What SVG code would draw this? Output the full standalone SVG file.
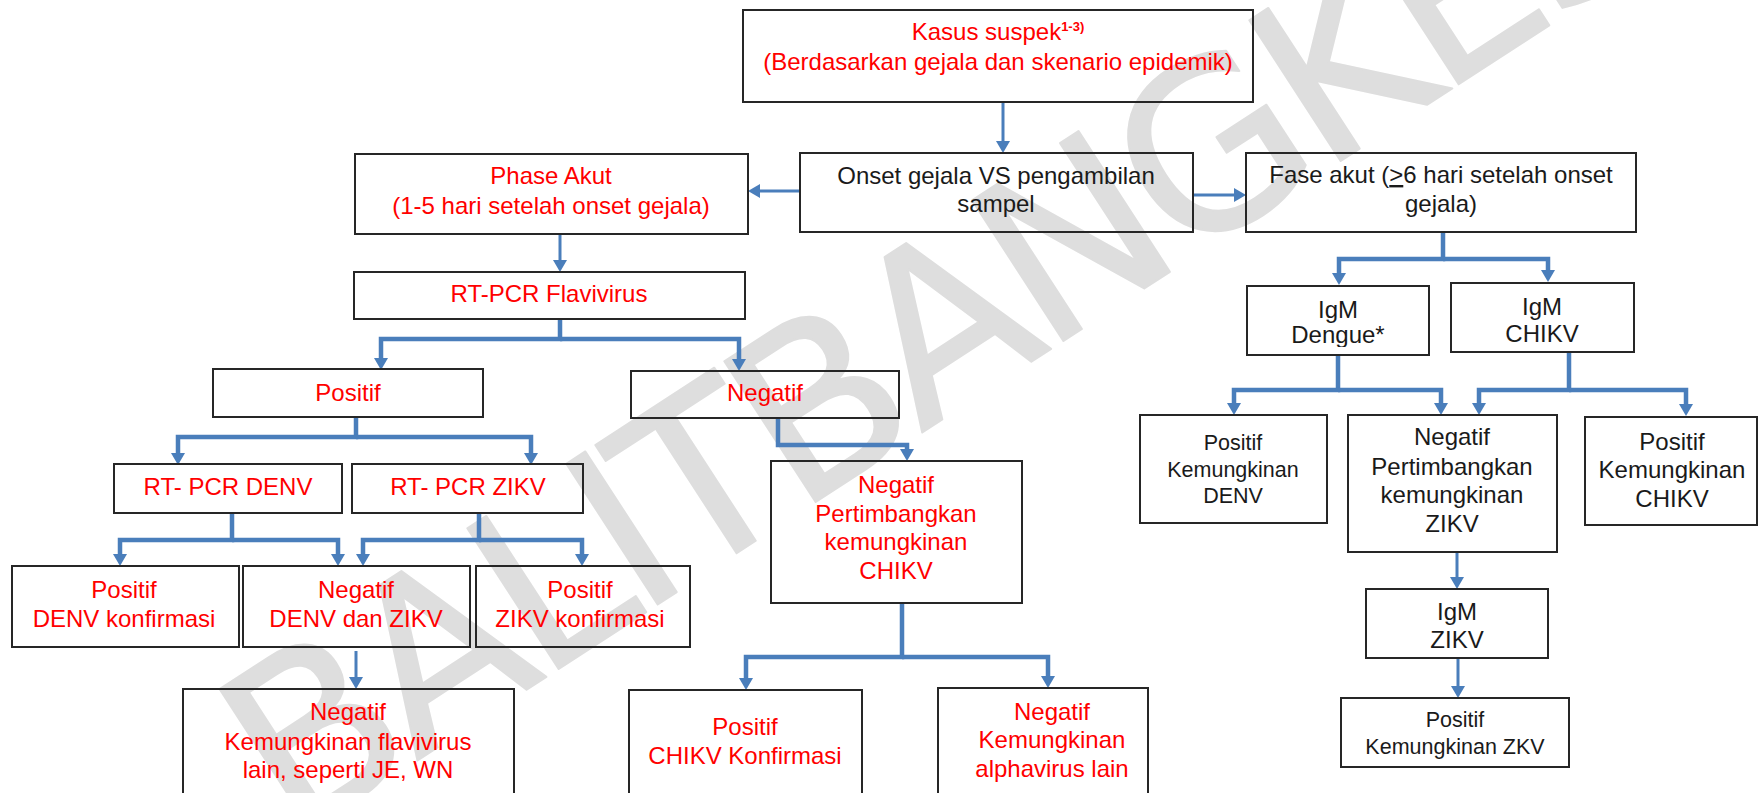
<svg xmlns="http://www.w3.org/2000/svg" width="1759" height="793" viewBox="0 0 1759 793">
<defs>
<style>
.box{fill:none;stroke:#262626;stroke-width:2}
.t{font-family:"Liberation Sans",Arial,sans-serif;font-size:24px;text-anchor:middle}
.r{fill:#ff0000}
.k{fill:#1a1a1a}
.s{font-size:21.5px}
.c{fill:none;stroke:#4a7ebb;stroke-width:3}
.c2{fill:none;stroke:#4a7ebb;stroke-width:4.5}
.wm{font-family:"DejaVu Sans",sans-serif;font-size:230px;fill:#dedede;stroke:#dedede;stroke-width:2;stroke-linejoin:round}
</style>
<marker id="ah" markerUnits="userSpaceOnUse" markerWidth="14" markerHeight="14" refX="2" refY="7" orient="auto">
<path d="M0,0 L12,7 L0,14 z" fill="#4a7ebb"/>
</marker>
<clipPath id="cd"><rect x="1247" y="286" width="182" height="61"/></clipPath>
</defs>
<rect width="1759" height="793" fill="#ffffff"/>
<g id="watermark">
<text class="wm" x="0" y="0" transform="translate(292,842) rotate(-33)" textLength="1650" lengthAdjust="spacing">BALITBANGKES</text>
</g>
<g id="connectors">
<path class="c" d="M1003,103 V143" marker-end="url(#ah)"/>
<path class="c" d="M800,191 H758" marker-end="url(#ah)"/>
<path class="c" d="M1193,195 H1236" marker-end="url(#ah)"/>
<path class="c" d="M560,234 V262" marker-end="url(#ah)"/>
<path class="c2" d="M560,319 V339 H381 V360" marker-end="url(#ah)"/>
<path class="c2" d="M560,339 H739 V361" marker-end="url(#ah)"/>
<path class="c2" d="M356,417 V437 H178 V455" marker-end="url(#ah)"/>
<path class="c2" d="M356,437 H531 V455" marker-end="url(#ah)"/>
<path class="c2" d="M232,513 V540 H120 V556" marker-end="url(#ah)"/>
<path class="c2" d="M232,540 H338 V556" marker-end="url(#ah)"/>
<path class="c2" d="M479,513 V540 H363 V556" marker-end="url(#ah)"/>
<path class="c2" d="M479,540 H582 V556" marker-end="url(#ah)"/>
<path class="c" d="M356,651 V679" marker-end="url(#ah)"/>
<path class="c2" d="M778,418 V445 H907 V451" marker-end="url(#ah)"/>
<path class="c2" d="M902,603 V657 H746 V680" marker-end="url(#ah)"/>
<path class="c2" d="M902,657 H1048 V678" marker-end="url(#ah)"/>
<path class="c2" d="M1443,232 V259 H1339 V275" marker-end="url(#ah)"/>
<path class="c2" d="M1443,259 H1548 V272" marker-end="url(#ah)"/>
<path class="c2" d="M1338,355 V390 H1234 V405" marker-end="url(#ah)"/>
<path class="c2" d="M1338,390 H1441 V405" marker-end="url(#ah)"/>
<path class="c2" d="M1569,352 V390 H1479 V405" marker-end="url(#ah)"/>
<path class="c2" d="M1569,390 H1686 V406" marker-end="url(#ah)"/>
<path class="c" d="M1457,552 V579" marker-end="url(#ah)"/>
<path class="c" d="M1458,658 V688" marker-end="url(#ah)"/>
</g>
<g id="n-kasus">
<rect class="box" x="743" y="10" width="510" height="92"/>
<text class="t r" x="998" y="40">Kasus suspek<tspan font-size="13" font-weight="bold" dy="-9">1-3)</tspan></text>
<text class="t r" x="998" y="70">(Berdasarkan gejala dan skenario epidemik)</text>
</g>
<g id="n-onset">
<rect class="box" x="800" y="153" width="393" height="79"/>
<text class="t k" x="996" y="184">Onset gejala VS pengambilan</text>
<text class="t k" x="996" y="212">sampel</text>
</g>
<g id="n-phase">
<rect class="box" x="355" y="154" width="393" height="80"/>
<text class="t r" x="551" y="184">Phase Akut</text>
<text class="t r" x="551" y="214">(1-5 hari setelah onset gejala)</text>
</g>
<g id="n-fase">
<rect class="box" x="1246" y="153" width="390" height="79"/>
<text class="t k" x="1441" y="183">Fase akut (<tspan text-decoration="underline">&gt;</tspan>6 hari setelah onset</text>
<text class="t k" x="1441" y="212">gejala)</text>
</g>
<g id="n-flavi">
<rect class="box" x="354" y="272" width="391" height="47"/>
<text class="t r" x="549" y="302">RT-PCR Flavivirus</text>
</g>
<g id="n-positif">
<rect class="box" x="213" y="369" width="270" height="48"/>
<text class="t r" x="348" y="401">Positif</text>
</g>
<g id="n-negatif">
<rect class="box" x="631" y="371" width="268" height="47"/>
<text class="t r" x="765" y="401">Negatif</text>
</g>
<g id="n-rtdenv">
<rect class="box" x="114" y="464" width="228" height="49"/>
<text class="t r" x="228" y="495">RT- PCR DENV</text>
</g>
<g id="n-rtzikv">
<rect class="box" x="352" y="464" width="231" height="49"/>
<text class="t r" x="468" y="495">RT- PCR ZIKV</text>
</g>
<g id="n-posdenv">
<rect class="box" x="12" y="566" width="227" height="81"/>
<text class="t r" x="124" y="598">Positif</text>
<text class="t r" x="124" y="627">DENV konfirmasi</text>
</g>
<g id="n-negdz">
<rect class="box" x="243" y="566" width="227" height="81"/>
<text class="t r" x="356" y="598">Negatif</text>
<text class="t r" x="356" y="627">DENV dan ZIKV</text>
</g>
<g id="n-poszikv">
<rect class="box" x="476" y="566" width="214" height="81"/>
<text class="t r" x="580" y="598">Positif</text>
<text class="t r" x="580" y="627">ZIKV konfirmasi</text>
</g>
<g id="n-negchikv">
<rect class="box" x="771" y="461" width="251" height="142"/>
<text class="t r" x="896" y="493">Negatif</text>
<text class="t r" x="896" y="522">Pertimbangkan</text>
<text class="t r" x="896" y="550">kemungkinan</text>
<text class="t r" x="896" y="579">CHIKV</text>
</g>
<g id="n-flavilain">
<rect class="box" x="183" y="689" width="331" height="120"/>
<text class="t r" x="348" y="720">Negatif</text>
<text class="t r" x="348" y="750">Kemungkinan flavivirus</text>
<text class="t r" x="348" y="778">lain, seperti JE, WN</text>
</g>
<g id="n-poschikvk">
<rect class="box" x="629" y="690" width="233" height="120"/>
<text class="t r" x="745" y="735">Positif</text>
<text class="t r" x="745" y="764">CHIKV Konfirmasi</text>
</g>
<g id="n-alpha">
<rect class="box" x="938" y="688" width="210" height="120"/>
<text class="t r" x="1052" y="720">Negatif</text>
<text class="t r" x="1052" y="748">Kemungkinan</text>
<text class="t r" x="1052" y="777">alphavirus lain</text>
</g>
<g id="n-igmdengue">
<rect class="box" x="1247" y="286" width="182" height="69"/>
<text class="t k" x="1338" y="318">IgM</text>
<text class="t k" x="1338" y="343" clip-path="url(#cd)">Dengue*</text>
</g>
<g id="n-igmchikv">
<rect class="box" x="1451" y="283" width="183" height="69"/>
<text class="t k" x="1542" y="315">IgM</text>
<text class="t k" x="1542" y="342">CHIKV</text>
</g>
<g id="n-posdenvk">
<rect class="box" x="1140" y="415" width="187" height="108"/>
<text class="t k s" x="1233" y="450">Positif</text>
<text class="t k s" x="1233" y="477">Kemungkinan</text>
<text class="t k s" x="1233" y="503">DENV</text>
</g>
<g id="n-negzikv">
<rect class="box" x="1348" y="415" width="209" height="137"/>
<text class="t k" x="1452" y="445">Negatif</text>
<text class="t k" x="1452" y="475">Pertimbangkan</text>
<text class="t k" x="1452" y="503">kemungkinan</text>
<text class="t k" x="1452" y="532">ZIKV</text>
</g>
<g id="n-poschikvr">
<rect class="box" x="1585" y="417" width="172" height="108"/>
<text class="t k" x="1672" y="450">Positif</text>
<text class="t k" x="1672" y="478">Kemungkinan</text>
<text class="t k" x="1672" y="507">CHIKV</text>
</g>
<g id="n-igmzikv">
<rect class="box" x="1366" y="589" width="182" height="69"/>
<text class="t k" x="1457" y="620">IgM</text>
<text class="t k" x="1457" y="648">ZIKV</text>
</g>
<g id="n-poszkv">
<rect class="box" x="1341" y="698" width="228" height="69"/>
<text class="t k s" x="1455" y="727">Positif</text>
<text class="t k s" x="1455" y="754">Kemungkinan ZKV</text>
</g>
</svg>
